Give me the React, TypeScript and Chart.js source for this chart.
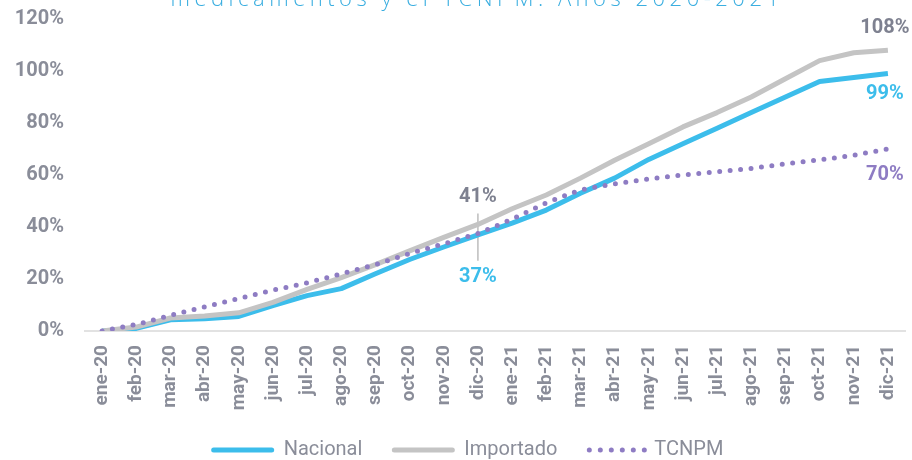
import React, { useEffect, useRef } from "react";
import { Chart, registerables } from "chart.js";

Chart.register(...registerables);

const months = [
  "ene-20", "feb-20", "mar-20", "abr-20", "may-20", "jun-20", "jul-20", "ago-20", "sep-20", "oct-20", "nov-20", "dic-20",
  "ene-21", "feb-21", "mar-21", "abr-21", "may-21", "jun-21", "jul-21", "ago-21", "sep-21", "oct-21", "nov-21", "dic-21",
];
const nacional = [0, 1, 4.3, 4.7, 5.6, 9.8, 13.6, 16.3, 22, 27.5, 32.3, 37, 41.5, 46.5, 53, 58.8, 66, 72, 78, 84, 90, 96, 97.5, 99];
const importado = [0, 1.5, 5, 5.8, 7, 11, 16, 20.5, 25.5, 30.8, 36, 41, 47, 52.3, 58.8, 65.7, 72, 78.5, 84, 90, 97, 104, 107, 108];
const tcnpm = [0, 2.5, 6, 9.3, 12.5, 15.7, 18.5, 22, 25.5, 29.8, 33.5, 37.5, 43, 49.3, 54.3, 56.6, 58.5, 60, 61.2, 62.5, 64.3, 65.8, 67.6, 70];
const yTicks = [0, 20, 40, 60, 80, 100, 120];

const seriesNames = ["Nacional", "Importado", "TCNPM"];
const titleText = "medicamentos y el TCNPM. Años 2020-2021";

const C_NAC = "#3cbdeb";
const C_IMP = "#c4c4c4";
const C_TCN = "#8e7cc3";
const C_TICK = "#8a8d99";
const C_LBL = "#7e8190";

export default function App() {
  const ref = useRef<HTMLCanvasElement>(null);

  useEffect(() => {
    const canvas = ref.current!;
    const plugin = {
      id: "custom",
      beforeDatasetsDraw(chart: any) {
        const { ctx, scales } = chart;
        const x = scales.x, y = scales.y;
        const i = 11;
        const px = x.getPixelForValue(i);
        ctx.save();
        ctx.strokeStyle = "#bdbdbd";
        ctx.lineWidth = 1.5;
        ctx.beginPath();
        ctx.moveTo(px, y.getPixelForValue(importado[i]) - 11);
        ctx.lineTo(px, y.getPixelForValue(nacional[i]) + 26);
        ctx.stroke();
        ctx.restore();
      },
      afterDraw(chart: any) {
        const { ctx, scales } = chart;
        const x = scales.x, y = scales.y;
        ctx.save();
        ctx.font = "bold 20px Roboto";
        ctx.textAlign = "center";
        ctx.textBaseline = "middle";
        const i = 11;
        const px = x.getPixelForValue(i);
        ctx.fillStyle = C_LBL;
        ctx.fillText(Math.round(importado[i]) + "%", px, y.getPixelForValue(importado[i]) - 27);
        ctx.fillStyle = C_NAC;
        ctx.fillText(Math.round(nacional[i]) + "%", px, y.getPixelForValue(nacional[i]) + 42);
        const j = months.length - 1;
        const pe = x.getPixelForValue(j) - 3;
        ctx.fillStyle = C_LBL;
        ctx.fillText(Math.round(importado[j]) + "%", pe, y.getPixelForValue(importado[j]) - 22);
        ctx.fillStyle = C_NAC;
        ctx.fillText(Math.round(nacional[j]) + "%", pe, y.getPixelForValue(nacional[j]) + 20);
        ctx.fillStyle = C_TCN;
        ctx.fillText(Math.round(tcnpm[j]) + "%", pe, y.getPixelForValue(tcnpm[j]) + 26);

        ctx.font = "300 22px 'Open Sans'";
        (ctx as any).letterSpacing = "4.5px";
        ctx.fillStyle = "#3aaee0";
        ctx.textBaseline = "alphabetic";
        ctx.fillText(titleText, 477, 6);
        (ctx as any).letterSpacing = "0px";

        const items = [
          { label: seriesNames[0], color: C_NAC, dots: false },
          { label: seriesNames[1], color: C_IMP, dots: false },
          { label: seriesNames[2], color: C_TCN, dots: true },
        ];
        ctx.font = "20px Roboto";
        const symW = 62, gapT = 10, gapI = 30;
        const widths = items.map((it) => symW + gapT + ctx.measureText(it.label).width);
        const total = widths.reduce((a, b) => a + b, 0) + gapI * (items.length - 1);
        let cx = 470 - total / 2;
        const ly = 450;
        items.forEach((it, k) => {
          ctx.save();
          ctx.strokeStyle = it.color;
          ctx.lineWidth = 5;
          ctx.lineCap = "round";
          if (it.dots) ctx.setLineDash([0, 11]);
          ctx.beginPath();
          ctx.moveTo(cx + 2, ly);
          ctx.lineTo(cx + symW - 2, ly);
          ctx.stroke();
          ctx.restore();
          ctx.fillStyle = C_TICK;
          ctx.textAlign = "left";
          ctx.textBaseline = "middle";
          ctx.fillText(it.label, cx + symW + gapT - (it.dots ? 5 : 0), ly);
          cx += widths[k] + gapI;
        });
        ctx.restore();
      },
    };

    const chart = new Chart(canvas, {
      type: "line",
      data: {
        labels: months,
        datasets: [
          {
            label: seriesNames[0], data: nacional, borderColor: C_NAC, backgroundColor: C_NAC,
            borderWidth: 5, pointRadius: 0, tension: 0, borderJoinStyle: "round", order: 2,
          },
          {
            label: seriesNames[1], data: importado, borderColor: C_IMP, backgroundColor: C_IMP,
            borderWidth: 5, pointRadius: 0, tension: 0, borderJoinStyle: "round", order: 1,
          },
          {
            label: seriesNames[2], data: tcnpm, borderColor: C_TCN, backgroundColor: C_TCN,
            borderWidth: 5, pointRadius: 0, tension: 0, borderDash: [0, 10.5], borderCapStyle: "round", order: 0,
          },
        ],
      },
      options: {
        responsive: false,
        animation: false,
        layout: { padding: { top: 19, right: 7, left: 0, bottom: 0 } },
        plugins: { legend: { display: false }, tooltip: { enabled: false }, title: { display: false } },
        scales: {
          x: {
            offset: true,
            grid: { display: false, drawTicks: false },
            border: { display: true, color: "#e2e2e2", width: 2 },
            ticks: {
              autoSkip: false, minRotation: 90, maxRotation: 90, padding: 14,
              color: C_TICK, font: { family: "Roboto", size: 19, weight: "bold" },
            },
            afterFit(scale: any) { scale.height = 129; scale.paddingLeft = 0; scale.paddingRight = 0; },
          },
          y: {
            min: 0, max: 120,
            afterBuildTicks(scale: any) { scale.ticks = yTicks.map((v) => ({ value: v })); },
            grid: { display: false, drawTicks: false },
            border: { display: false },
            ticks: {
              padding: 21, color: C_TICK, font: { family: "Roboto", size: 20, weight: "bold" },
              callback: (v: any) => v + "%",
            },
            afterFit(scale: any) { scale.width = 85; scale.paddingTop = 0; scale.paddingBottom = 0; },
          },
        },
      },
      plugins: [plugin],
    } as any);
    return () => chart.destroy();
  }, []);

  return (
    <div style={{ position: "fixed", left: 0, top: 0, width: 912, height: 460, background: "#fff" }}>
      <canvas ref={ref} width={912} height={460} style={{ display: "block" }} />
    </div>
  );
}
